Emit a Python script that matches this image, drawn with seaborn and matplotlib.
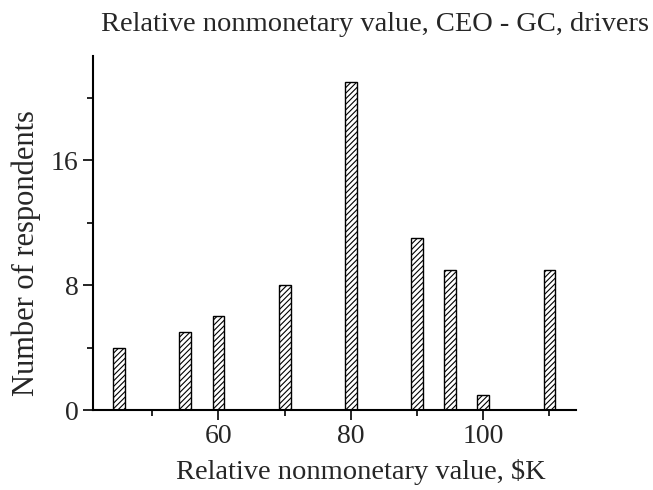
import matplotlib
matplotlib.use("Agg")
import matplotlib.pyplot as plt
import seaborn as sns
from matplotlib.ticker import MultipleLocator

values_k = [45, 55, 60, 70, 80, 90, 95, 100, 110]
respondents = [4, 5, 6, 8, 21, 11, 9, 1, 9]

sns.set_style("ticks")
plt.rcParams['font.family'] = ['Liberation Serif', 'DejaVu Serif']
plt.rcParams['hatch.linewidth'] = 0.8

fig = plt.figure(figsize=(6.53, 4.9), dpi=100)
ax = fig.add_axes([0.142, 0.163, 0.74, 0.723])

sns.barplot(x=values_k, y=respondents, native_scale=True, width=0.36,
            color='white', edgecolor='black', linewidth=1.0,
            hatch='//////', ax=ax)

ax.set_xlim(41, 114)
ax.set_ylim(0, 22.7)
ax.xaxis.set_major_locator(MultipleLocator(20))
ax.xaxis.set_minor_locator(MultipleLocator(10))
ax.yaxis.set_major_locator(MultipleLocator(8))
ax.yaxis.set_minor_locator(MultipleLocator(4))
ax.tick_params(which='major', length=7, width=1.2, labelsize=20, pad=3, color='black')
ax.tick_params(which='minor', length=4.5, width=1.2, color='black')

sns.despine(ax=ax)
for s in ['left', 'bottom']:
    ax.spines[s].set_linewidth(1.5)
    ax.spines[s].set_color('black')

ax.set_xlabel("Relative nonmonetary value, $K", fontsize=20.5, x=0.555, labelpad=7)
ax.set_ylabel("Number of respondents", fontsize=22, y=0.443, labelpad=7)
ax.set_title("Relative nonmonetary value, CEO - GC, drivers", fontsize=20.5, x=0.584, pad=18)

fig.savefig("out.png", dpi=100)
